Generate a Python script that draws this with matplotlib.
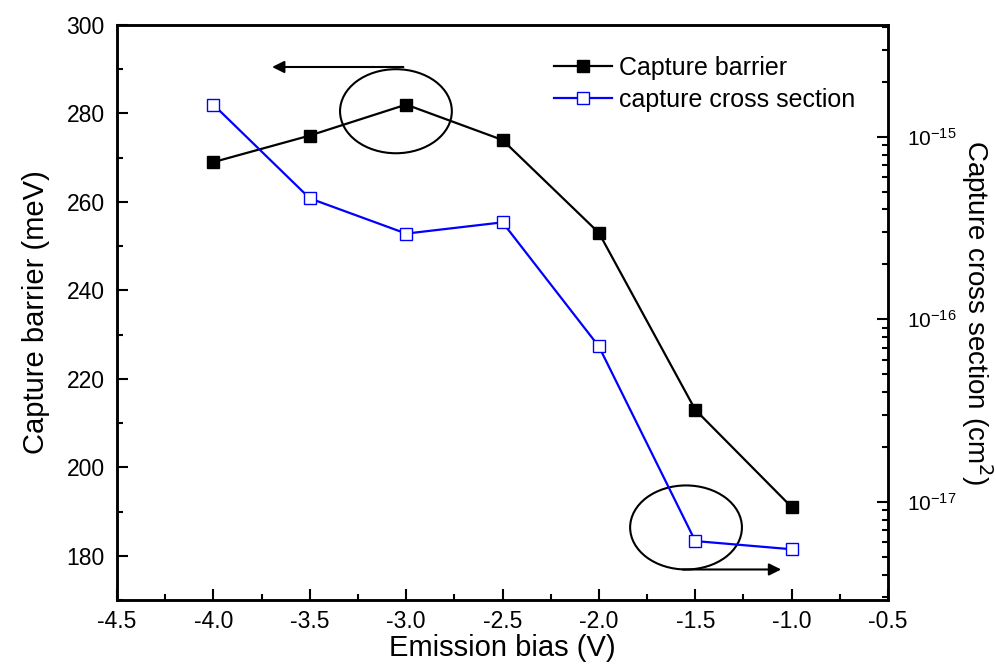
import matplotlib
matplotlib.use("Agg")
import matplotlib.pyplot as plt
from matplotlib.patches import Ellipse
from matplotlib.ticker import MultipleLocator, LogLocator, NullFormatter

plt.rcParams['font.family'] = ['Liberation Sans', 'DejaVu Sans']

# --- data ---
bias = [-4.0, -3.5, -3.0, -2.5, -2.0, -1.5, -1.0]
barrier = [269, 275, 282, 274, 253, 213, 191]                       # meV
cross_section = [1.5e-15, 4.6e-16, 2.95e-16, 3.4e-16, 7.1e-17, 6.1e-18, 5.5e-18]  # cm^2

fig = plt.figure(figsize=(9.96, 6.66), dpi=100)
ax = fig.add_axes([0.1175, 0.0991, 0.7741, 0.8634])
ax2 = ax.twinx()

l1, = ax.plot(bias, barrier, color="black", lw=1.6, marker="s", ms=8,
              mfc="black", mec="black", label="Capture barrier")
l2, = ax2.plot(bias, cross_section, color="blue", lw=1.6, marker="s", ms=8,
               mfc="white", mec="blue", mew=1.0, label="capture cross section")

ax.set_xlim(-4.5, -0.5)
ax.set_ylim(170, 300)
ax2.set_yscale("log")
ax2.set_ylim(2.9e-18, 4.1e-15)

ax.xaxis.set_major_locator(MultipleLocator(0.5))
ax.xaxis.set_minor_locator(MultipleLocator(0.25))
ax.yaxis.set_major_locator(MultipleLocator(20))
ax.yaxis.set_minor_locator(MultipleLocator(10))
ax.xaxis.set_major_formatter(plt.FuncFormatter(lambda v, p: f"{v:.1f}"))

ax2.yaxis.set_major_locator(LogLocator(base=10, numticks=10))
ax2.yaxis.set_minor_locator(LogLocator(base=10, subs=range(2, 10), numticks=20))
ax2.yaxis.set_minor_formatter(NullFormatter())

for a in (ax, ax2):
    for s in a.spines.values():
        s.set_linewidth(1.8)
ax.tick_params(axis="both", which="major", direction="in", length=8, width=1.5,
               labelsize=16.5, pad=9, top=False, right=False)
ax.tick_params(axis="x", which="major", pad=7)
ax.tick_params(axis="both", which="minor", direction="in", length=4, width=1.5,
               top=False, right=False)
ax2.tick_params(axis="y", which="major", direction="in", length=8, width=1.5,
                labelsize=15, pad=14)
ax2.tick_params(axis="y", which="minor", direction="in", length=4, width=1.5)

ax.set_xlabel("Emission bias (V)", fontsize=21, labelpad=1)
ax.set_ylabel("Capture barrier (meV)", fontsize=21, labelpad=12)
ax2.set_ylabel("Capture cross section (cm$^2$)", fontsize=20, rotation=270,
               labelpad=27)

# annotations: circles and arrows pointing to the matching axis
ax.add_patch(Ellipse((-3.053, 280.5), 0.58, 19, fill=False, lw=1.5, color="black"))
ax.add_patch(Ellipse((-1.548, 186.4), 0.58, 19, fill=False, lw=1.5, color="black"))
ax.annotate("", xy=(-3.71, 290.5), xytext=(-3.0, 290.5),
            arrowprops=dict(arrowstyle="-|>", color="black", lw=1.5, mutation_scale=18))
ax.annotate("", xy=(-1.04, 176.9), xytext=(-1.58, 176.9),
            arrowprops=dict(arrowstyle="-|>", color="black", lw=1.5, mutation_scale=18))

ax.legend(handles=[l1, l2], loc="upper left", bbox_to_anchor=(0.538, 0.985),
          frameon=False, fontsize=18, handlelength=2.3, handletextpad=0.3,
          labelspacing=0.3)

fig.savefig("out.png", dpi=100)
